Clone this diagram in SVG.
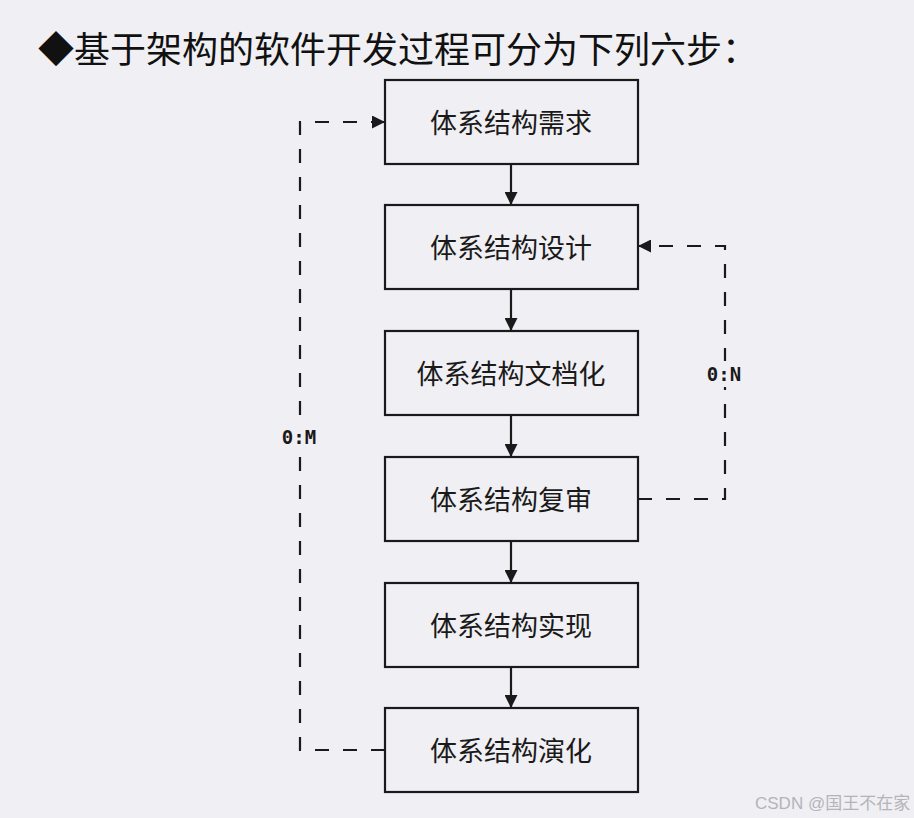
<svg xmlns="http://www.w3.org/2000/svg" width="914" height="818" viewBox="0 0 914 818">
<defs>
<style>
.box{fill:none;stroke:#1a1a1a;stroke-width:2.2}
.lbl{font-family:"Noto Sans CJK SC","Noto Sans CJK JP",sans-serif;font-size:27px;fill:#1a1a1a;text-anchor:middle;dominant-baseline:central}
.solid{stroke:#1a1a1a;stroke-width:2.2;fill:none}
.dash{stroke:#1a1a1a;stroke-width:2.2;fill:none;stroke-dasharray:14 14}
.ratio{font-family:"DejaVu Sans Mono","Liberation Mono",monospace;font-size:19px;font-weight:bold;fill:#1a1a1a;text-anchor:middle;dominant-baseline:central}
</style>
<marker id="ah" viewBox="0 0 10 10" refX="10" refY="5" markerWidth="13" markerHeight="13" markerUnits="userSpaceOnUse" orient="auto">
<path d="M0,0 L10,5 L0,10 z" fill="#1a1a1a"/>
</marker>
</defs>
<rect width="914" height="818" fill="#f0eff3"/>
<text x="38" y="47" font-family="Noto Sans CJK SC,sans-serif" font-size="36" fill="#111" dominant-baseline="central">◆基于架构的软件开发过程可分为下列六步：</text>
<g id="n1"><rect class="box" x="385" y="80" width="253" height="84"/><text class="lbl" x="511" y="121">体系结构需求</text></g>
<g id="n2"><rect class="box" x="385" y="205" width="253" height="84"/><text class="lbl" x="511" y="246">体系结构设计</text></g>
<g id="n3"><rect class="box" x="385" y="331" width="253" height="84"/><text class="lbl" x="511" y="372">体系结构文档化</text></g>
<g id="n4"><rect class="box" x="385" y="457" width="253" height="84"/><text class="lbl" x="511" y="498">体系结构复审</text></g>
<g id="n5"><rect class="box" x="385" y="583" width="253" height="84"/><text class="lbl" x="511" y="624">体系结构实现</text></g>
<g id="n6"><rect class="box" x="385" y="708" width="253" height="84"/><text class="lbl" x="511" y="749">体系结构演化</text></g>
<g id="connectors">
<line class="solid" x1="511" y1="164" x2="511" y2="205" marker-end="url(#ah)"/>
<line class="solid" x1="511" y1="289" x2="511" y2="331" marker-end="url(#ah)"/>
<line class="solid" x1="511" y1="415" x2="511" y2="457" marker-end="url(#ah)"/>
<line class="solid" x1="511" y1="541" x2="511" y2="583" marker-end="url(#ah)"/>
<line class="solid" x1="511" y1="667" x2="511" y2="708" marker-end="url(#ah)"/>
<path class="dash" d="M385,750 H300 V122 H385" marker-end="url(#ah)"/>
<path class="dash" d="M638,499 H725 V246 H638" marker-end="url(#ah)"/>
<rect x="276" y="424" width="48" height="26" fill="#f0eff3"/>
<text class="ratio" x="299" y="437">0:M</text>
<rect x="700" y="361" width="48" height="26" fill="#f0eff3"/>
<text class="ratio" x="724" y="374">0:N</text>
</g>
<text x="755" y="803" font-family="Liberation Sans,Noto Sans CJK SC,sans-serif" font-size="17" fill="#b4b4b8" dominant-baseline="central">CSDN @国王不在家</text>
</svg>
